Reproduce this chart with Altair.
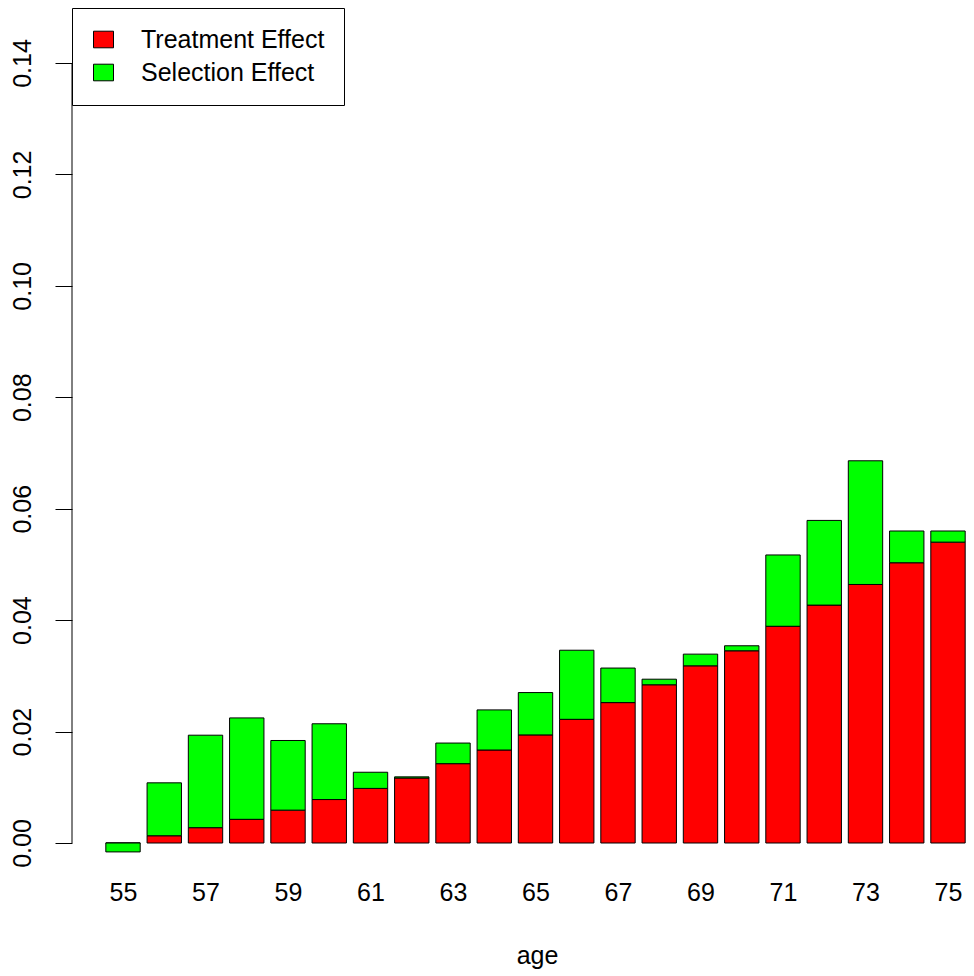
import altair as alt
import pandas as pd

ages = list(range(55, 76))
treatment = [0.0, 0.0013, 0.00275, 0.00425, 0.0059, 0.0078, 0.0098, 0.01167, 0.01424,
             0.01669, 0.0194, 0.0222, 0.0252, 0.0284, 0.0318, 0.0345, 0.0389, 0.0427,
             0.0464, 0.0503, 0.0540]
selection = [-0.0016, 0.0095, 0.0166, 0.0182, 0.0125, 0.0136, 0.0029, 0.0002, 0.0037,
             0.0072, 0.0076, 0.0124, 0.0062, 0.0010, 0.0021, 0.0009, 0.0128, 0.0152,
             0.0222, 0.0057, 0.0020]
series_names = ["Treatment Effect", "Selection Effect"]
series_colors = ["#FF0000", "#00FF00"]
x_tick_values = list(range(55, 76, 2))
y_tick_values = [0.0, 0.02, 0.04, 0.06, 0.08, 0.10, 0.12, 0.14]

rows = []
for a, t, s in zip(ages, treatment, selection):
    rows.append({"age": a, "series": series_names[0], "k": 0, "value": t})
    rows.append({"age": a, "series": series_names[1], "k": 1, "value": s})
df = pd.DataFrame(rows)

FONT = "Liberation Sans"
FS = 25

yscale = alt.Scale(domain=[-0.004846, 0.14987], nice=False, zero=False)
yaxis = alt.Axis(values=y_tick_values, format=".2f", labelAngle=270, labelAlign="center",
                 labelBaseline="alphabetic", labelPadding=25, tickSize=17, ticks=True,
                 domain=False, grid=False, title=None, labelFontSize=FS, labelFont=FONT,
                 labelColor="black", tickColor="black", tickWidth=1, labelFlush=False,
                 labelOverlap=False)

bars = alt.Chart(df).transform_stack(
    stack="value", groupby=["age"], sort=[alt.SortField("k", order="ascending")],
    as_=["v0", "v1"]
).transform_calculate(
    x0="datum.age - 0.41667", x1="datum.age + 0.41667"
).mark_rect(stroke="black", strokeWidth=1).encode(
    x=alt.X("x0:Q", scale=alt.Scale(domain=[53.7636, 75.4364], nice=False, zero=False),
            axis=alt.Axis(values=x_tick_values, format="d", labelFontSize=FS, labelFont=FONT,
                          labelColor="black", domain=False, ticks=False, tickSize=0,
                          grid=False, labelPadding=10, labelBaseline="top",
                          labelFlush=False, labelOverlap=False,
                          title="age", titleFontSize=FS, titleFont=FONT,
                          titleFontWeight="normal", titleColor="black", titleX=465,
                          titleY=93, titleBaseline="alphabetic", titleAlign="center")),
    x2="x1:Q",
    y=alt.Y("v0:Q", scale=yscale, axis=yaxis),
    y2="v1:Q",
    color=alt.Color("series:N", scale=alt.Scale(domain=series_names, range=series_colors),
                    legend=alt.Legend(orient="none", legendX=0, legendY=0, padding=19,
                                      rowPadding=7, labelOffset=25,
                                      symbolType="M-1,-0.83H1V0.83H-1Z", symbolSize=400,
                                      symbolStrokeColor="black", symbolStrokeWidth=1,
                                      symbolOpacity=1, labelFontSize=FS, labelFont=FONT,
                                      labelColor="black", labelLimit=500,
                                      strokeColor="black", fillColor="white",
                                      cornerRadius=0, title=None)),
)

axis_line = alt.Chart(pd.DataFrame({"a": [0]})).mark_rule(color="black", strokeWidth=1).encode(
    x=alt.value(0),
    y=alt.Y(datum=0.0, type="quantitative", scale=yscale, axis=yaxis),
    y2=alt.Y2(datum=0.14),
)

chart = alt.layer(axis_line, bars).properties(
    width=894, height=862,
    autosize=alt.AutoSizeParams(type="none"),
    padding={"left": 64, "top": 0, "right": 0, "bottom": 100},
    background="white",
).configure_view(stroke=None)

chart.save("out.html", embed_options={"renderer": "svg", "actions": False})
